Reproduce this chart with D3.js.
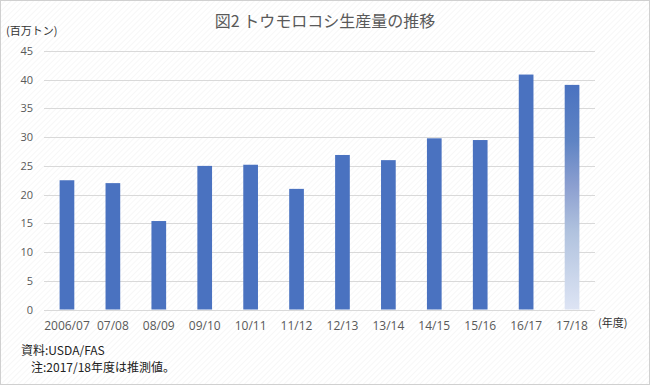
<!DOCTYPE html>
<html><head><meta charset="utf-8">
<script src="https://cdn.jsdelivr.net/npm/d3@7"></script>
<style>body{margin:0;background:#fff;}svg{display:block;}</style>
</head><body>
<script>
const categories = ["2006/07","07/08","08/09","09/10","10/11","11/12","12/13","13/14","14/15","15/16","16/17","17/18"];
const values = [22.5, 22.0, 15.4, 25.0, 25.2, 21.0, 26.9, 26.0, 29.8, 29.5, 40.9, 39.1];
const estimated = [false,false,false,false,false,false,false,false,false,false,false,true];
const yTicks = [0,5,10,15,20,25,30,35,40,45];

const W = 650, H = 385;
const svg = d3.select("body").append("svg").attr("width", W).attr("height", H);
const defs = svg.append("defs");
const pat = defs.append("pattern").attr("id","hatch").attr("width",4).attr("height",4)
  .attr("patternUnits","userSpaceOnUse").attr("patternTransform","rotate(45)");
pat.append("rect").attr("width",4).attr("height",4).attr("fill","#fff");
pat.append("line").attr("x1",0).attr("y1",0).attr("x2",0).attr("y2",4).attr("stroke","#f0f0f0").attr("stroke-width",1);
const grad = defs.append("linearGradient").attr("id","est").attr("x1",0).attr("y1",0).attr("x2",0).attr("y2",1);
grad.append("stop").attr("offset","0%").attr("stop-color","#4a72c0");
grad.append("stop").attr("offset","25%").attr("stop-color","#5f84c4");
grad.append("stop").attr("offset","45%").attr("stop-color","#8c9fd0");
grad.append("stop").attr("offset","65%").attr("stop-color","#b0c2de");
grad.append("stop").attr("offset","100%").attr("stop-color","#dde4f4");

svg.append("rect").attr("x",0.5).attr("y",0.5).attr("width",W-1).attr("height",H-1)
  .attr("fill","url(#hatch)").attr("stroke","#d0d0d0");

const x = d3.scaleBand().domain(categories).range([44, 595]).paddingInner(0.68).paddingOuter(0.34);
const y = d3.scaleLinear().domain([0,45]).range([309.5, 51]);

const font = "'Noto Sans CJK JP', 'Noto Sans', sans-serif";

// gridlines
svg.append("g").selectAll("line").data(yTicks).join("line")
  .attr("x1",44).attr("x2",595).attr("y1",d=>Math.round(y(d))+0.5).attr("y2",d=>Math.round(y(d))+0.5)
  .attr("stroke","#d9d9d9").attr("stroke-width",1);

// y axis labels
const yAxis = d3.axisLeft(y).tickValues(yTicks).tickSize(0).tickPadding(0);
const ya = svg.append("g").attr("transform","translate(33,0)").call(yAxis);
ya.select(".domain").remove();
ya.selectAll("text").attr("fill","#595959").style("font-family","'Open Sans', sans-serif").style("font-size","11px");

// bars
svg.append("g").selectAll("rect").data(categories).join("rect")
  .attr("x", d=>x(d)).attr("width", x.bandwidth())
  .attr("y", (d,i)=>y(values[i])).attr("height",(d,i)=>y(0)-y(values[i]))
  .attr("fill",(d,i)=> estimated[i] ? "url(#est)" : "#4a72c0");

// x axis
const xAxis = d3.axisBottom(x).tickSize(0).tickPadding(0);
const xa = svg.append("g").attr("transform","translate(0,321)").call(xAxis);
xa.select(".domain").remove();
xa.selectAll("text").attr("fill","#595959").style("font-family","'Open Sans', sans-serif").style("font-size","12px");

// title
svg.append("text").attr("x",325).attr("y",27).attr("text-anchor","middle")
  .attr("fill","#595959").style("font-family",font).style("font-size","16px").text("図2 トウモロコシ生産量の推移");
svg.append("text").attr("x",6).attr("y",35).attr("fill","#333")
  .style("font-family",font).style("font-size","11px").text("(百万トン)");
svg.append("text").attr("x",598).attr("y",327).attr("fill","#333")
  .style("font-family",font).style("font-size","11px").text("(年度)");
svg.append("text").attr("x",21).attr("y",355).attr("fill","#222")
  .style("font-family",font).style("font-size","12px").text("資料:USDA/FAS");
svg.append("text").attr("x",31).attr("y",372).attr("fill","#222")
  .style("font-family",font).style("font-size","12px").text("注:2017/18年度は推測値。");
</script>
</body></html>
